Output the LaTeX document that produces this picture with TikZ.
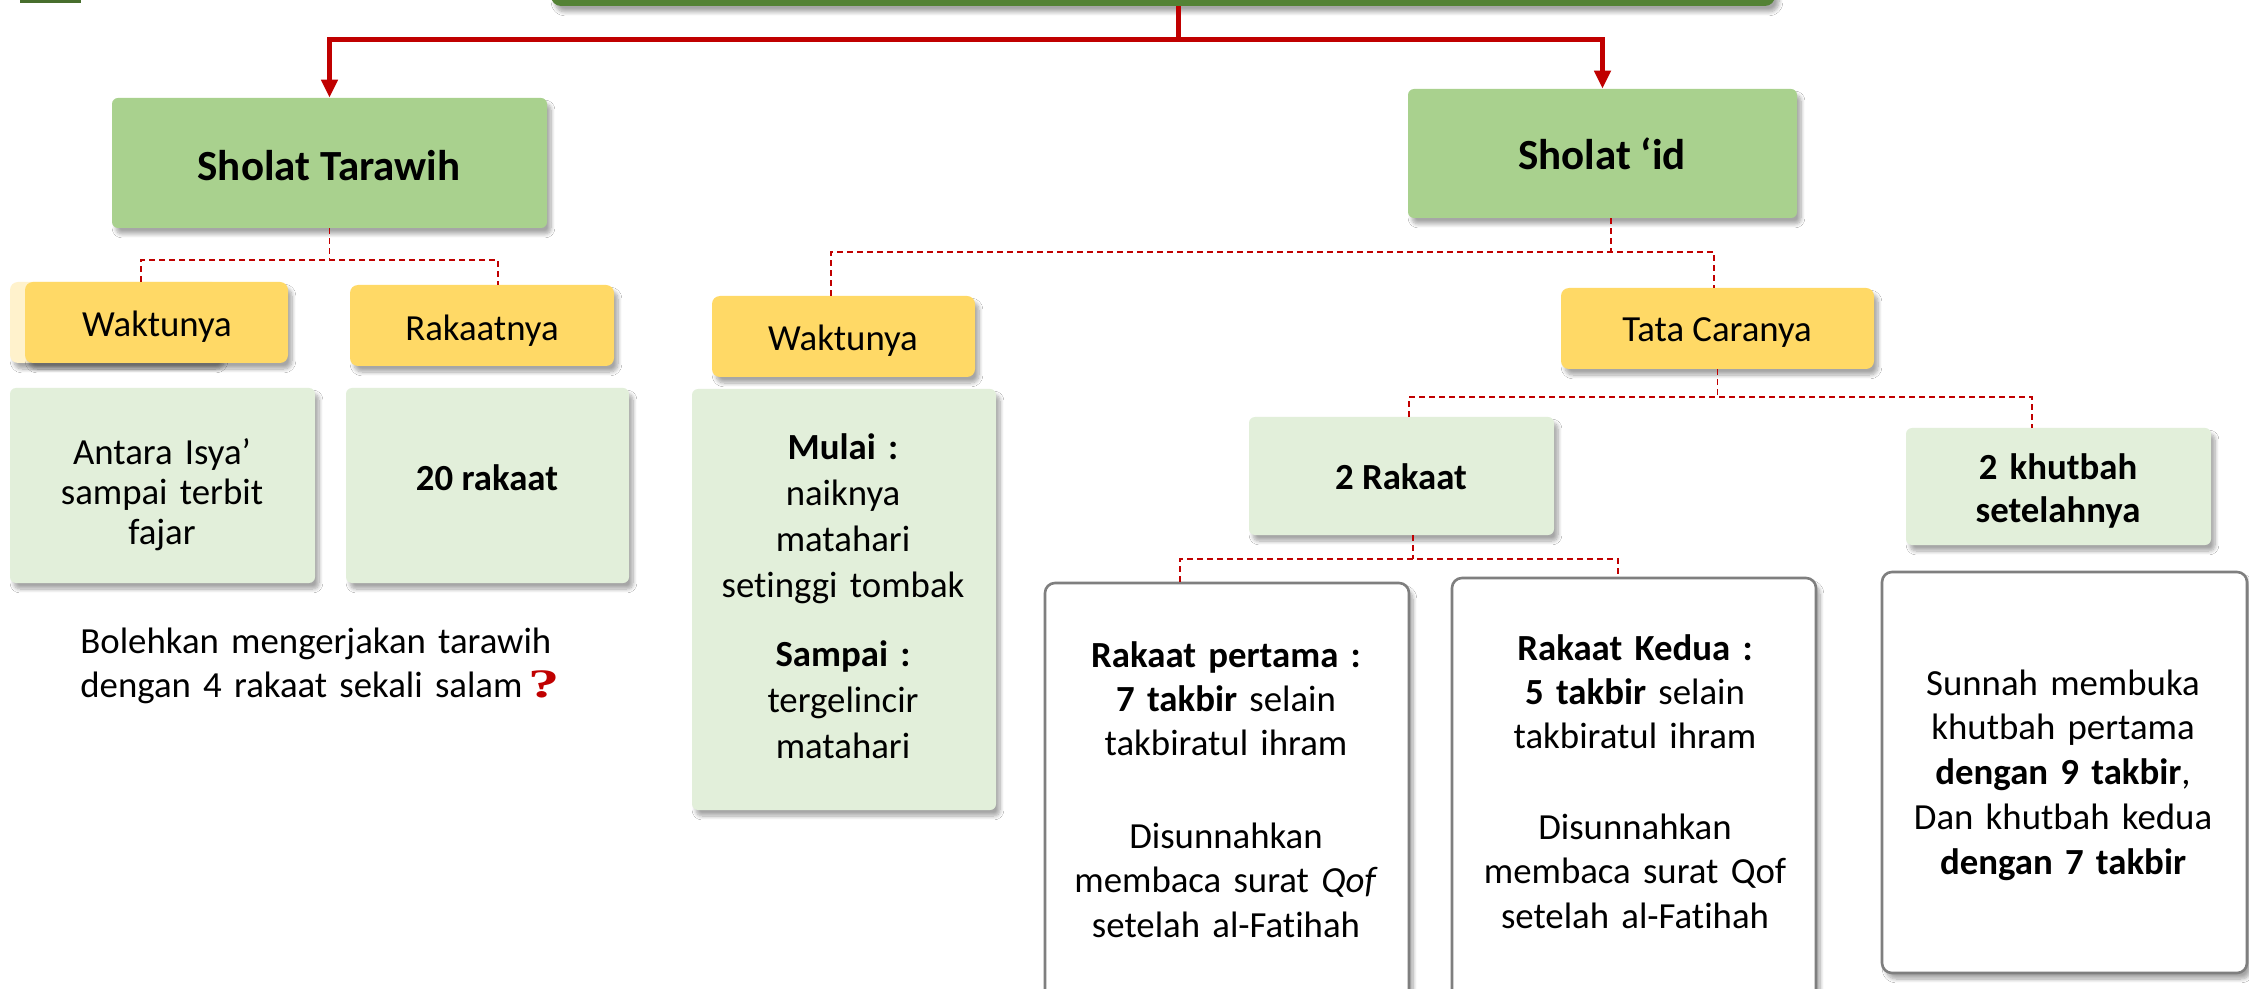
\documentclass[tikz,border=0pt]{standalone}
\usepackage{fontspec}
\usepackage{graphicx}
\setmainfont{Carlito}[Ligatures=NoCommon]
\newfontfamily\qfont{Liberation Serif}
\usetikzlibrary{arrows.meta,shadows.blur}
\definecolor{bargreen}{HTML}{548235}
\definecolor{headgreen}{HTML}{A9D18E}
\definecolor{subyellow}{HTML}{FFD966}
\definecolor{ghostyellow}{HTML}{FFF2CC}
\definecolor{palegreen}{HTML}{E2EFDA}
\definecolor{boxgray}{HTML}{7F7F7F}
\definecolor{conred}{HTML}{C00000}
\tikzset{
  shad/.style={blur shadow={shadow xshift=2pt,shadow yshift=-3pt,shadow blur steps=8,shadow opacity=35}},
  boxbase/.style={shape=rectangle,inner sep=0pt,draw=none,shad},
  barbox/.style={boxbase,fill=bargreen,rounded corners=5pt},
  headbox/.style={boxbase,fill=headgreen,rounded corners=3pt},
  yelbox/.style={boxbase,fill=subyellow,rounded corners=4pt},
  palebox/.style={boxbase,fill=palegreen,rounded corners=3pt},
  whitebox/.style={boxbase,fill=white,draw=boxgray,line width=1.3pt,rounded corners=5pt},
  headtxt/.style={anchor=base,inner sep=0pt,font=\fontsize{21.5}{26}\selectfont\bfseries},
  bodytxt/.style={anchor=base,inner sep=0pt,align=center,font=\fontsize{18.4}{22.2}\selectfont},
  redline/.style={draw=conred,line width=2.5pt},
  redarrow/.style={redline,-{Triangle[width=8pt,length=9pt]}},
  dashline/.style={draw=conred,line width=0.6pt,dash pattern=on 3pt off 2pt}
}
\begin{document}
\begin{tikzpicture}[x=0.5pt,y=-0.5pt]
\useasboundingbox (0,0) rectangle (2249,989);
\fill[white] (0,0) rectangle (2249,989);
\clip (0,0) rectangle (2249,989);

% top strip fragment
\fill[bargreen!85!black] (20,0) rectangle (81,3);

% title bar (cropped)
\node[barbox,minimum width=612pt,minimum height=33pt] (bar) at (1163,-27) {};

% main headings
\node[headbox,minimum width=217.5pt,minimum height=65pt] (tarawih) at (329.5,163) {};
\node[headtxt] (tarawihT) at (329,181) {Sholat Tarawih};
\node[headbox,minimum width=194.5pt,minimum height=64.5pt] (id) at (1602.5,153.5) {};
\node[headtxt] (idT) at (1602,170) {Sholat ‘id};

% Tarawih branch
\fill[ghostyellow,rounded corners=4pt,shad] (10,282) rectangle (220,363);
\node[yelbox,minimum width=131.5pt,minimum height=40.5pt] (waktu1) at (156.5,322.5) {};
\node[bodytxt] (waktu1T) at (157,337) {Waktunya};
\node[yelbox,minimum width=132pt,minimum height=40.5pt] (rakaat1) at (482,325.5) {};
\node[bodytxt] (rakaat1T) at (482,341) {Rakaatnya};

\node[palebox,minimum width=152.5pt,minimum height=97.5pt] (isya) at (162.5,485.5) {};
\node[bodytxt,text width=150pt,font=\fontsize{18.4}{20}\selectfont] (isyaT) at (162,465) {Antara Isya’\\ sampai terbit\\ fajar};
\node[palebox,minimum width=141.5pt,minimum height=97.5pt] (dua) at (487.5,485.5) {};
\node[bodytxt,font=\fontsize{18.4}{22.2}\selectfont\bfseries] (duaT) at (487,490) {20 rakaat};

\node[bodytxt,anchor=base west,align=left,text width=262pt] (tanya) at (80,653)
  {Bolehkan mengerjakan tarawih\\ dengan 4 rakaat sekali salam\hspace{3pt}{\qfont\bfseries\color{conred}\scalebox{1.7}[1.1]{?}}};

% Sholat 'id branch
\node[yelbox,minimum width=131.5pt,minimum height=40.5pt] (waktu2) at (843.5,336.5) {};
\node[bodytxt] (waktu2T) at (843,351) {Waktunya};
\node[palebox,minimum width=152pt,minimum height=210.5pt] (mulai) at (844,599.5) {};
\node[bodytxt,text width=150pt,font=\fontsize{18.4}{23}\selectfont] (mulaiT) at (843,459.5)
  {\textbf{Mulai :}\\ naiknya\\ matahari\\ setinggi tombak\\[11.5pt] \textbf{Sampai :}\\ tergelincir\\ matahari};

\node[yelbox,minimum width=156.5pt,minimum height=40.5pt] (tata) at (1717.5,328.5) {};
\node[bodytxt] (tataT) at (1717,342) {Tata Caranya};

\node[palebox,minimum width=152.5pt,minimum height=59pt] (rak2) at (1401.5,476) {};
\node[bodytxt,font=\fontsize{18.4}{22.2}\selectfont\bfseries] (rak2T) at (1401,489) {2 Rakaat};
\node[palebox,minimum width=152.5pt,minimum height=58.5pt] (khut) at (2058.5,486.5) {};
\node[bodytxt,text width=150pt,font=\fontsize{18.4}{21.5}\selectfont\bfseries] (khutT) at (2058,480) {2 khutbah\\ setelahnya};

\node[whitebox,minimum width=182pt,minimum height=213.5pt] (box1) at (1227,796.5) {};
\node[bodytxt,text width=180pt] (box1T) at (1226,667)
  {\textbf{Rakaat pertama :}\\ \textbf{7 takbir} selain\\ takbiratul ihram\\[24pt] Disunnahkan\\ membaca surat \textit{Qof}\\ setelah al-Fatihah};
\node[whitebox,minimum width=182pt,minimum height=216pt] (box2) at (1634,794) {};
\node[bodytxt,text width=180pt] (box2T) at (1635,660)
  {\textbf{Rakaat Kedua :}\\ \textbf{5 takbir} selain\\ takbiratul ihram\\[23pt] Disunnahkan\\ membaca surat Qof\\ setelah al-Fatihah};
\node[whitebox,minimum width=182.5pt,minimum height=200.5pt] (box3) at (2064.5,772.5) {};
\node[bodytxt,text width=180pt,font=\fontsize{18.4}{22.4}\selectfont] (box3T) at (2063,695)
  {Sunnah membuka\\ khutbah pertama\\ \textbf{dengan 9 takbir},\\ Dan khutbah kedua\\ \textbf{dengan 7 takbir}};

% red connectors
\coordinate (split) at (1178,40);
\draw[redline] (bar.south -| split) -- (split);
\draw[redarrow] (split) -| (tarawih.north);
\draw[redarrow] (split) -| (id.north);

% dashed connectors: Tarawih
\coordinate (d1l) at (141,260);
\coordinate (d1r) at (498,260);
\draw[dashline] (tarawih.south) -- (tarawih.south |- d1l);
\draw[dashline] (waktu1.north -| d1l) -- (d1l) -- (d1r) -- (rakaat1.north -| d1r);

% dashed connectors: Sholat 'id
\coordinate (d2) at (1611,252);
\coordinate (d2l) at (831,252);
\coordinate (d2r) at (1714,252);
\draw[dashline] (id.south -| d2) -- (d2);
\draw[dashline] (waktu2.north -| d2l) -- (d2l) -- (d2r) -- (tata.north -| d2r);

% dashed connectors: Tata Caranya
\coordinate (d3l) at (1409,397);
\coordinate (d3r) at (2032,397);
\draw[dashline] (tata.south) -- (tata.south |- d3l);
\draw[dashline] (rak2.north -| d3l) -- (d3l) -- (d3r) -- (khut.north -| d3r);

% dashed connectors: 2 Rakaat
\coordinate (d4) at (1413,559);
\coordinate (d4l) at (1180,559);
\coordinate (d4r) at (1618,559);
\draw[dashline] (rak2.south -| d4) -- (d4);
\draw[dashline] (box1.north -| d4l) -- (d4l) -- (d4r) -- (box2.north -| d4r);
\end{tikzpicture}
\end{document}
